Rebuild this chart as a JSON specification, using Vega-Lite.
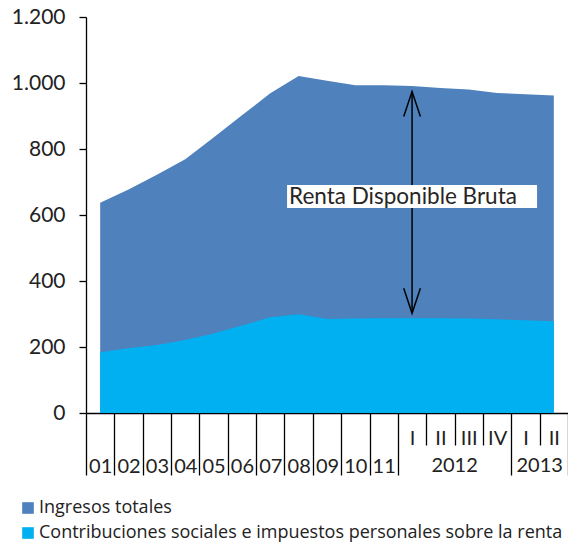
{
  "$schema": "https://vega.github.io/schema/vega-lite/v6.json",
  "width": 482,
  "height": 396,
  "autosize": {"type": "none"},
  "padding": {"left": 86, "top": 17, "right": 0, "bottom": 134},
  "config": {"view": {"stroke": null}},
  "datasets": {
    "series": [
      {"cat": "01", "serie": "Ingresos totales", "value": 637},
      {"cat": "02", "serie": "Ingresos totales", "value": 677},
      {"cat": "03", "serie": "Ingresos totales", "value": 722},
      {"cat": "04", "serie": "Ingresos totales", "value": 769},
      {"cat": "05", "serie": "Ingresos totales", "value": 835},
      {"cat": "06", "serie": "Ingresos totales", "value": 902},
      {"cat": "07", "serie": "Ingresos totales", "value": 969},
      {"cat": "08", "serie": "Ingresos totales", "value": 1021},
      {"cat": "09", "serie": "Ingresos totales", "value": 1007},
      {"cat": "10", "serie": "Ingresos totales", "value": 993},
      {"cat": "11", "serie": "Ingresos totales", "value": 993},
      {"cat": "2012-I", "serie": "Ingresos totales", "value": 991},
      {"cat": "2012-II", "serie": "Ingresos totales", "value": 985},
      {"cat": "2012-III", "serie": "Ingresos totales", "value": 980},
      {"cat": "2012-IV", "serie": "Ingresos totales", "value": 970},
      {"cat": "2013-I", "serie": "Ingresos totales", "value": 966},
      {"cat": "2013-II", "serie": "Ingresos totales", "value": 962},
      {"cat": "01", "serie": "Contribuciones sociales e impuestos personales sobre la renta", "value": 184},
      {"cat": "02", "serie": "Contribuciones sociales e impuestos personales sobre la renta", "value": 196},
      {"cat": "03", "serie": "Contribuciones sociales e impuestos personales sobre la renta", "value": 206},
      {"cat": "04", "serie": "Contribuciones sociales e impuestos personales sobre la renta", "value": 221},
      {"cat": "05", "serie": "Contribuciones sociales e impuestos personales sobre la renta", "value": 241},
      {"cat": "06", "serie": "Contribuciones sociales e impuestos personales sobre la renta", "value": 265},
      {"cat": "07", "serie": "Contribuciones sociales e impuestos personales sobre la renta", "value": 290},
      {"cat": "08", "serie": "Contribuciones sociales e impuestos personales sobre la renta", "value": 299},
      {"cat": "09", "serie": "Contribuciones sociales e impuestos personales sobre la renta", "value": 285},
      {"cat": "10", "serie": "Contribuciones sociales e impuestos personales sobre la renta", "value": 286},
      {"cat": "11", "serie": "Contribuciones sociales e impuestos personales sobre la renta", "value": 287},
      {"cat": "2012-I", "serie": "Contribuciones sociales e impuestos personales sobre la renta", "value": 287},
      {"cat": "2012-II", "serie": "Contribuciones sociales e impuestos personales sobre la renta", "value": 287},
      {"cat": "2012-III", "serie": "Contribuciones sociales e impuestos personales sobre la renta", "value": 286},
      {"cat": "2012-IV", "serie": "Contribuciones sociales e impuestos personales sobre la renta", "value": 284},
      {"cat": "2013-I", "serie": "Contribuciones sociales e impuestos personales sobre la renta", "value": 281},
      {"cat": "2013-II", "serie": "Contribuciones sociales e impuestos personales sobre la renta", "value": 278}
    ],
    "annot": [
      {"cat": "2012-I", "top": 974, "bottom": 302, "labelY": 656, "label": "Renta Disponible Bruta"}
    ],
    "years": [
      {"cat": "2012-III", "year": "2012"},
      {"cat": "2013-II", "year": "2013"}
    ]
  },
  "layer": [
    {
      "data": {"name": "series"},
      "transform": [{"filter": "datum.serie == 'Ingresos totales'"}],
      "mark": {"type": "area", "opacity": 1, "interpolate": "linear"},
      "encoding": {
        "x": {
          "field": "cat", "type": "ordinal", "sort": null, "title": null,
          "scale": {"type": "band", "paddingInner": 0, "paddingOuter": 0},
          "axis": {
            "orient": "bottom",
            "title": null,
            "tickBand": "extent",
            "domainColor": "#000000", "domainWidth": 1.3,
            "tickColor": "#000000", "tickWidth": 1.3,
            "tickSize": 62,
            "tickDash": {"condition": {"test": "datum.value == '2012-I' || datum.value == '2012-II' || datum.value == '2012-III' || datum.value == '2013-I'", "value": [32, 100]}, "value": [100, 0]},
            "labelExpr": "datum.value == '2012-I' ? ['I', ''] : datum.value == '2012-II' ? ['II', ''] : datum.value == '2012-III' ? ['III', ''] : datum.value == '2012-IV' ? ['IV', ''] : datum.value == '2013-I' ? ['I', ''] : datum.value == '2013-II' ? ['II', ''] : ['', datum.label]",
            "labelPadding": -37,
            "labelLineHeight": 28,
            "labelBaseline": "middle",
            "labelAngle": 0,
            "labelFont": "Lato", "labelFontSize": 20, "labelColor": "#222222",
            "labelOverlap": false, "grid": false
          }
        },
        "y": {
          "field": "value", "type": "quantitative", "stack": null, "title": null,
          "scale": {"domain": [0, 1200], "nice": false},
          "axis": {
            "title": null, "grid": false,
            "values": [0, 200, 400, 600, 800, 1000, 1200],
            "labelExpr": "replace(format(datum.value, ','), ',', '.')",
            "tickSize": 7, "labelPadding": 14,
            "domainColor": "#000000", "domainWidth": 1.3,
            "tickColor": "#000000", "tickWidth": 1.3,
            "labelFont": "Lato", "labelFontSize": 21, "labelColor": "#222222"
          }
        },
        "color": {
          "field": "serie", "type": "nominal",
          "scale": {"domain": ["Ingresos totales", "Contribuciones sociales e impuestos personales sobre la renta"], "range": ["#4f81bd", "#00b0f0"]},
          "legend": {
            "orient": "none", "legendX": -67, "legendY": 482, "direction": "vertical",
            "title": null, "padding": 0,
            "symbolType": "square", "symbolSize": 135, "symbolStrokeWidth": 0, "symbolOpacity": 1,
            "labelFont": "Open Sans", "labelFontSize": 18, "labelColor": "#222222", "labelLimit": 0,
            "labelOffset": 2, "rowPadding": 7
          }
        }
      }
    },
    {
      "data": {"name": "series"},
      "transform": [{"filter": "datum.serie != 'Ingresos totales'"}],
      "mark": {"type": "area", "opacity": 1, "interpolate": "linear"},
      "encoding": {
        "x": {"field": "cat", "type": "ordinal", "sort": null, "title": null},
        "y": {"field": "value", "type": "quantitative", "stack": null, "title": null},
        "color": {"field": "serie", "type": "nominal"}
      }
    },
    {
      "data": {"name": "annot"},
      "mark": {"type": "rule", "color": "#000000", "strokeWidth": 1.5},
      "encoding": {
        "x": {"field": "cat", "type": "ordinal", "sort": null, "title": null},
        "y": {"field": "top", "type": "quantitative", "title": null},
        "y2": {"field": "bottom"}
      }
    },
    {
      "data": {"name": "annot"},
      "mark": {"type": "point", "shape": "M-0.667,1 L0,-1 L0.667,1", "size": 625, "filled": false, "stroke": "#000000", "strokeWidth": 1.5, "opacity": 1, "yOffset": 12.5},
      "encoding": {
        "x": {"field": "cat", "type": "ordinal", "sort": null, "title": null},
        "y": {"field": "top", "type": "quantitative", "title": null}
      }
    },
    {
      "data": {"name": "annot"},
      "mark": {"type": "point", "shape": "M-0.667,-1 L0,1 L0.667,-1", "size": 625, "filled": false, "stroke": "#000000", "strokeWidth": 1.5, "opacity": 1, "yOffset": -12.5},
      "encoding": {
        "x": {"field": "cat", "type": "ordinal", "sort": null, "title": null},
        "y": {"field": "bottom", "type": "quantitative", "title": null}
      }
    },
    {
      "data": {"name": "annot"},
      "mark": {"type": "point", "shape": "M-1,-0.092 L1,-0.092 L1,0.092 L-1,0.092 Z", "size": 62500, "filled": true, "fill": "#ffffff", "strokeWidth": 0, "opacity": 1},
      "encoding": {
        "x": {"field": "cat", "type": "ordinal", "sort": null, "title": null},
        "y": {"field": "labelY", "type": "quantitative", "title": null}
      }
    },
    {
      "data": {"name": "annot"},
      "mark": {"type": "text", "align": "left", "baseline": "middle", "dx": -123, "font": "Lato", "fontSize": 22.5, "color": "#262626"},
      "encoding": {
        "x": {"field": "cat", "type": "ordinal", "sort": null, "title": null},
        "y": {"field": "labelY", "type": "quantitative", "title": null},
        "text": {"field": "label"}
      }
    },
    {
      "data": {"name": "years"},
      "mark": {"type": "text", "align": "center", "baseline": "middle", "yOffset": 53, "font": "Lato", "fontSize": 20, "color": "#222222"},
      "encoding": {
        "x": {"field": "cat", "type": "ordinal", "sort": null, "title": null, "bandPosition": 0},
        "y": {"datum": 0, "type": "quantitative", "title": null},
        "text": {"field": "year"}
      }
    }
  ]
}
